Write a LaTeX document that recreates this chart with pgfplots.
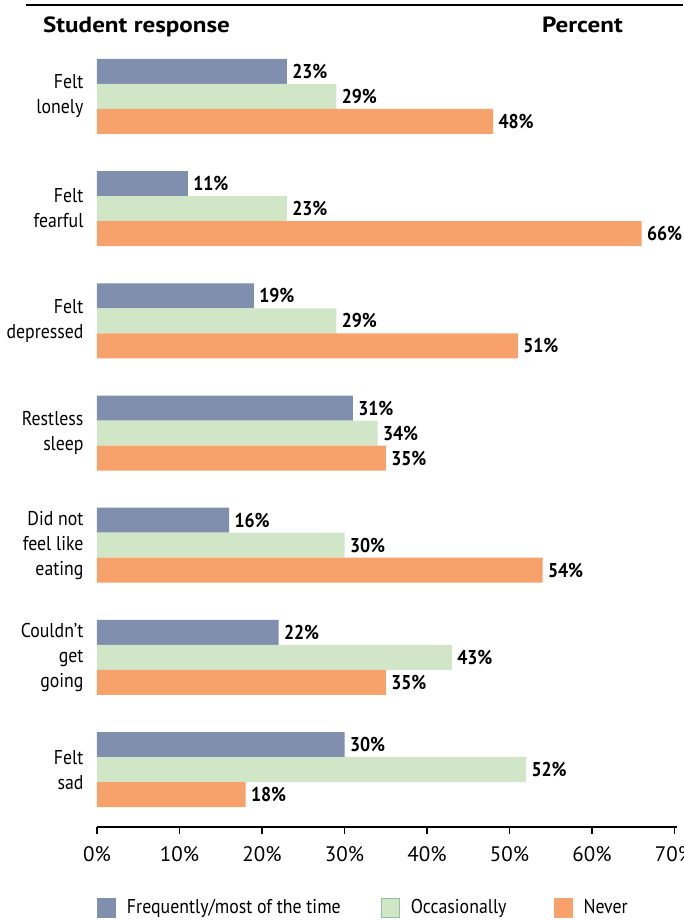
\documentclass[border=0pt]{standalone}
\usepackage{pgfplots}
\pgfplotsset{compat=1.18}
\usepackage{pgfplotstable}
\usepackage{fontspec}
\setmainfont{PT Sans}[FakeStretch=0.89]
\newfontfamily\tickfont{PT Sans}
\newfontfamily\headfont{PT Sans}[FakeStretch=1.14]
\definecolor{cblue}{HTML}{7F8FAD}
\definecolor{cgreen}{HTML}{D0E6C6}
\definecolor{cgreenb}{HTML}{8CC79A}
\definecolor{corange}{HTML}{F7A26B}
\pgfplotstableread{
y freq occ never
6 23 29 48
5 11 23 66
4 19 29 51
3 31 34 35
2 16 30 54
1 22 43 35
0 30 52 18
}\data
\begin{document}
\begin{tikzpicture}
\path[use as bounding box] (-97pt,-93pt) rectangle (586pt,827pt);
\begin{axis}[
  at={(0pt,0pt)}, anchor=south west,
  scale only axis, width=580pt, height=797.9pt,
  xmin=0, xmax=70.3, ymin=-0.511, ymax=6.6,
  xbar, bar width=25pt,
  axis x line*=bottom, axis y line*=left,
  y axis line style={draw=none},
  x axis line style={-, line width=1.5pt},
  xtick={0,10,...,70},
  xticklabel={\pgfmathprintnumber{\tick}\%},
  /pgf/number format/assume math mode=true,
  xtick style={line width=1.5pt, black},
  major tick length=7pt,
  tick align=outside,
  xticklabel style={font=\tickfont\fontsize{21}{25}\selectfont, yshift=-9pt},
  ytick={0,...,6},
  ytick style={draw=none},
  yticklabels={{Felt\\sad},{Couldn't\\get\\going},{Did not\hspace{4pt}\\feel like\\eating},{Restless\\sleep},{Felt\\depressed},{Felt\\fearful},{Felt\\lonely}},
  yticklabel style={align=right, font=\fontsize{20}{25}\selectfont, xshift=-3pt},
  nodes near coords={\pgfmathprintnumber\pgfplotspointmeta\%},
  nodes near coords style={font=\fontsize{20}{24}\selectfont\bfseries, anchor=west, xshift=2pt, black},
  legend columns=3,
  legend image code/.code={\filldraw[#1] (0pt,-9.5pt) rectangle (18pt,9.5pt);},
  legend style={at={(0,0)}, anchor=north west, yshift=-70.5pt, draw=none, fill=none, inner sep=0pt,
    nodes={inner sep=0pt}, font=\fontsize{20}{24}\selectfont,
    /tikz/every odd column/.append style={column sep=11pt}},
  legend cell align=left,
]
\addlegendimage{fill=cblue, draw=cblue, line width=0.8pt}
\addlegendimage{fill=cgreen, draw=cgreenb, line width=0.8pt}
\addlegendimage{fill=corange, draw=corange, line width=0.8pt}
\addplot[fill=cblue, draw=none, bar shift=25pt, forget plot] table[x=freq, y=y] {\data};
\addplot[fill=cgreen, draw=none, bar shift=0pt, forget plot] table[x=occ, y=y] {\data};
\addplot[fill=corange, draw=none, bar shift=-25pt, forget plot] table[x=never, y=y] {\data};
\legend{\makebox[254pt][l]{Frequently/most of the time}, \makebox[143pt][l]{Occasionally}, Never}
\end{axis}
\draw[line width=1.3pt] (-71pt,822pt) -- (586pt,822pt);
\node[anchor=base west, inner sep=0pt, font=\headfont\fontsize{22}{26}\selectfont\bfseries] at (-54pt,794.7pt) {Student response};
\node[anchor=base east, inner sep=0pt, font=\headfont\fontsize{22}{26}\selectfont\bfseries] at (526pt,794.7pt) {Percent};
\end{tikzpicture}
\end{document}
